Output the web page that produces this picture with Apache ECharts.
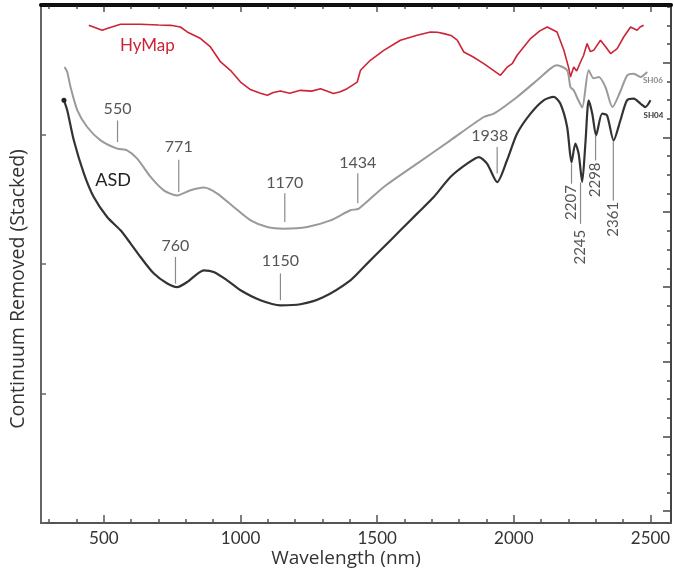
<!DOCTYPE html>
<html>
<head>
<meta charset="utf-8">
<script src="https://cdn.jsdelivr.net/npm/echarts@6/dist/echarts.min.js"></script>
<style>
html,body{margin:0;padding:0;background:#fff}
#chart{width:674px;height:573px}
</style>
</head>
<body>
<div id="chart"></div>
<script>
// spectra: [wavelength nm, stacked value]
var hymap = [[445,3.844],[494,3.805],[512,3.818],[561,3.851],[634,3.851],[700,3.846],[744,3.843],[780,3.830],[805,3.792],
  [854,3.741],[890,3.676],[927,3.560],[963,3.496],[1000,3.405],[1036,3.347],[1070,3.320],[1098,3.303],[1120,3.325],[1146,3.336],
  [1180,3.318],[1219,3.341],[1260,3.335],[1293,3.354],[1340,3.316],[1365,3.330],[1390,3.354],[1427,3.405],[1439,3.496],
  [1475,3.573],[1524,3.650],[1585,3.728],[1646,3.766],[1695,3.792],[1720,3.790],[1744,3.779],[1770,3.765],[1793,3.728],[1817,3.637],
  [1850,3.600],[1890,3.547],[1951,3.457],[1976,3.521],[1995,3.550],[2012,3.612],[2061,3.741],[2095,3.800],[2122,3.830],[2158,3.792],[2183,3.650],
  [2200,3.520],[2207,3.444],[2219,3.521],[2230,3.490],[2244,3.560],[2255,3.610],[2268,3.702],[2280,3.640],[2292,3.650],[2317,3.728],
  [2335,3.680],[2354,3.625],[2378,3.663],[2402,3.753],[2427,3.830],[2451,3.805],[2462,3.830],[2475,3.844]];
var sh06 = [[356,3.521],[366,3.483],[378,3.367],[403,3.187],[439,3.058],[488,2.955],[549,2.891],[585,2.878],[622,2.814],
  [671,2.672],[719,2.569],[768,2.529],[817,2.569],[866,2.590],[915,2.544],[975,2.440],[1037,2.337],[1098,2.286],[1158,2.273],
  [1244,2.286],[1329,2.337],[1402,2.415],[1433,2.428],[1524,2.595],[1646,2.775],[1768,2.955],[1890,3.135],[1927,3.161],
  [2012,3.290],[2085,3.419],[2134,3.509],[2158,3.534],[2195,3.496],[2207,3.367],[2219,3.341],[2236,3.264],[2250,3.210],
  [2274,3.496],[2292,3.434],[2311,3.444],[2335,3.367],[2361,3.212],[2390,3.334],[2415,3.457],[2439,3.470],[2463,3.444],[2488,3.483]];
var sh04 = [[354,3.264],[366,3.187],[390,2.955],[427,2.698],[463,2.517],[512,2.363],[561,2.260],[598,2.158],[634,2.054],
  [683,1.926],[732,1.849],[768,1.822],[805,1.861],[866,1.951],[902,1.938],[951,1.874],[1000,1.797],[1073,1.720],[1146,1.681],
  [1219,1.689],[1300,1.741],[1402,1.874],[1463,2.003],[1524,2.131],[1585,2.260],[1646,2.389],[1707,2.517],[1768,2.672],
  [1829,2.775],[1872,2.826],[1902,2.775],[1939,2.633],[1975,2.801],[2012,3.007],[2061,3.161],[2109,3.264],[2146,3.290],
  [2170,3.239],[2195,3.058],[2211,2.785],[2225,2.930],[2237,2.853],[2250,2.633],[2262,2.938],[2274,3.264],[2287,3.161],
  [2301,2.994],[2323,3.161],[2341,3.148],[2365,2.955],[2390,3.110],[2414,3.264],[2439,3.277],[2463,3.239],[2481,3.212],[2500,3.264]];

// feature annotations: text, wavelength, tick line top/bottom, label position (data units)
var featText   = ['550', '771', '1170', '1434', '760', '1150', '1938'];
var featX      = [550, 774, 1162, 1429, 762, 1146, 1939];
var featTop    = [3.108, 2.805, 2.546, 2.700, 2.054, 1.927, 2.903];
var featBottom = [2.942, 2.556, 2.324, 2.469, 1.849, 1.720, 2.698];
var featLabelX = [550, 774, 1162, 1429, 762, 1146, 1912];
var featLabelY = [3.200, 2.903, 2.625, 2.778, 2.144, 2.021, 2.993];

var dipText   = ['2207', '2245', '2298', '2361'];
var dipX      = [2211, 2244, 2299, 2364];
var dipTop    = [2.775, 2.630, 2.990, 2.950];
var dipBottom = [2.620, 2.310, 2.800, 2.490];
var dipLabelY = [2.475, 2.130, 2.650, 2.345];

var curveText = ['HyMap', 'ASD', 'SH06', 'SH04'];
var curveX    = [659, 534, 2545, 2547];
var curveY    = [3.690, 2.650, 3.414, 3.148];

var xLabels = [500, 1000, 1500, 2000, 2500];

var minorX = [];
for (var w = 300; w <= 2500; w += 100) if (w % 500) minorX.push(w);
var rightMajor = [0, 1, 2, 3, 4, 5, 6];
var rightMinor = [];
for (var r = -0.25; r < 6.8; r += 0.25) if (r % 1) rightMinor.push(r);

var chart = echarts.init(document.getElementById('chart'));
var font = 'Lato, "Open Sans", sans-serif';
var rect = {left: 41, right: 3, top: 5, bottom: 50};

function pack(a, b, c, d, e) {
  return a.map(function (v, i) { return [v, b[i], c[i], d[i], e ? e[i] : v]; });
}

function annoRender(texts, rotated, color, size) {
  return function (params, api) {
    var i = params.dataIndex;
    var p1 = api.coord([api.value(0), api.value(1)]);
    var p2 = api.coord([api.value(0), api.value(2)]);
    var pt = api.coord([api.value(4), api.value(3)]);
    return {
      type: 'group',
      children: [
        {type: 'line', shape: {x1: p1[0], y1: p1[1], x2: p2[0], y2: p2[1]},
         style: {stroke: '#8a8a8a', lineWidth: 1.2}},
        {type: 'text', x: pt[0], y: pt[1], rotation: rotated ? Math.PI / 2 : 0,
         style: {text: texts[i], fill: color, font: size + 'px ' + font, align: 'center', verticalAlign: 'middle'}}
      ]
    };
  };
}

function xAx(grid, pos, line, ticks, len, labels) {
  return {type: 'value', gridIndex: grid, position: pos, min: 270, max: 2575, splitLine: {show: false},
    axisLine: line ? {show: true, onZero: false, lineStyle: line} : {show: false, onZero: false},
    axisTick: {show: true, inside: true, length: len, customValues: ticks, lineStyle: {color: '#555', width: 1.5}},
    axisLabel: labels ? {customValues: xLabels, color: '#333', fontSize: 17, fontFamily: font, margin: 7,
                         formatter: function (v) { return String(v); }} : {show: false}};
}

chart.setOption({
  animation: false,
  grid: [rect, rect, rect, rect].map(function (g) { return Object.assign({}, g); }),
  xAxis: [
    xAx(0, 'bottom', {color: '#555', width: 2}, xLabels, 8, true),
    xAx(1, 'bottom', null, minorX, 4, false),
    xAx(2, 'top', {color: '#000', width: 4}, xLabels, 7, false),
    xAx(3, 'top', null, minorX, 4, false)
  ],
  yAxis: [
    {type: 'value', gridIndex: 0, position: 'left', min: 0, max: 4, interval: 1, splitLine: {show: false},
     axisLine: {show: true, onZero: false, lineStyle: {color: '#666', width: 2}}, axisLabel: {show: false},
     axisTick: {show: true, inside: true, length: 5, lineStyle: {color: '#666', width: 1.5}}},
    {type: 'value', gridIndex: 1, position: 'right', min: -0.16, max: 6.774, splitLine: {show: false},
     axisLine: {show: true, onZero: false, lineStyle: {color: '#444', width: 2}}, axisLabel: {show: false},
     axisTick: {show: true, inside: true, length: 8, customValues: rightMajor, lineStyle: {color: '#444', width: 1.5}}},
    {type: 'value', gridIndex: 2, position: 'right', min: -0.16, max: 6.774, splitLine: {show: false},
     axisLine: {show: false, onZero: false}, axisLabel: {show: false},
     axisTick: {show: true, inside: true, length: 4, customValues: rightMinor, lineStyle: {color: '#444', width: 1.5}}},
    {type: 'value', gridIndex: 3, show: false, min: 0, max: 4}
  ],
  graphic: [
    {type: 'text', x: 18, y: 289, rotation: Math.PI / 2,
     style: {text: 'Continuum Removed (Stacked)', fill: '#333', font: '19.5px "Open Sans", sans-serif', align: 'center', verticalAlign: 'middle'}},
    {type: 'text', x: 346, y: 559,
     style: {text: 'Wavelength (nm)', fill: '#333', font: '19px "Open Sans", sans-serif', align: 'center', verticalAlign: 'middle'}}
  ],
  series: [
    {name: 'HyMap', type: 'line', data: hymap, symbol: 'none', clip: false, lineStyle: {color: '#cc2436', width: 1.6},
     // dark top border of the frame, along the top of the value range
     markLine: {silent: true, symbol: 'none', label: {show: false}, lineStyle: {color: '#111', width: 3.5, type: 'solid'},
                data: [{yAxis: 4}]}},
    {name: 'SH06', type: 'line', data: sh06, symbol: 'none', smooth: 0.25, lineStyle: {color: '#9a9a9a', width: 2}},
    {name: 'SH04', type: 'line', data: sh04, symbol: 'none', smooth: 0.25, lineStyle: {color: '#333', width: 2.2},
     markPoint: {symbol: 'circle', symbolSize: 5, itemStyle: {color: '#222'}, label: {show: false},
                 data: [{coord: sh04[0]}]}},
    {type: 'custom', data: pack(featX, featBottom, featTop, featLabelY, featLabelX),
     renderItem: annoRender(featText, false, '#555', 16), silent: true, z: 5},
    {type: 'custom', data: pack(dipX, dipTop, dipBottom, dipLabelY),
     renderItem: annoRender(dipText, true, '#555', 15), silent: true, z: 5},
    {type: 'custom', data: curveX.map(function (v, i) { return [v, curveY[i]]; }),
     renderItem: function (params, api) {
       var i = params.dataIndex, p = api.coord([api.value(0), api.value(1)]);
       var styles = [['#cc2436', 17, 'center'], ['#222', 18, 'center'], ['#888', 8, 'right'], ['#333', 8, 'right']];
       var s = styles[i];
       return {type: 'text', x: p[0], y: p[1],
               style: {text: curveText[i], fill: s[0], font: (i > 1 ? 'bold ' : '') + s[1] + 'px ' + font,
                       align: s[2], verticalAlign: 'middle'}};
     }, silent: true, z: 5}
  ]
});
</script>
</body>
</html>
